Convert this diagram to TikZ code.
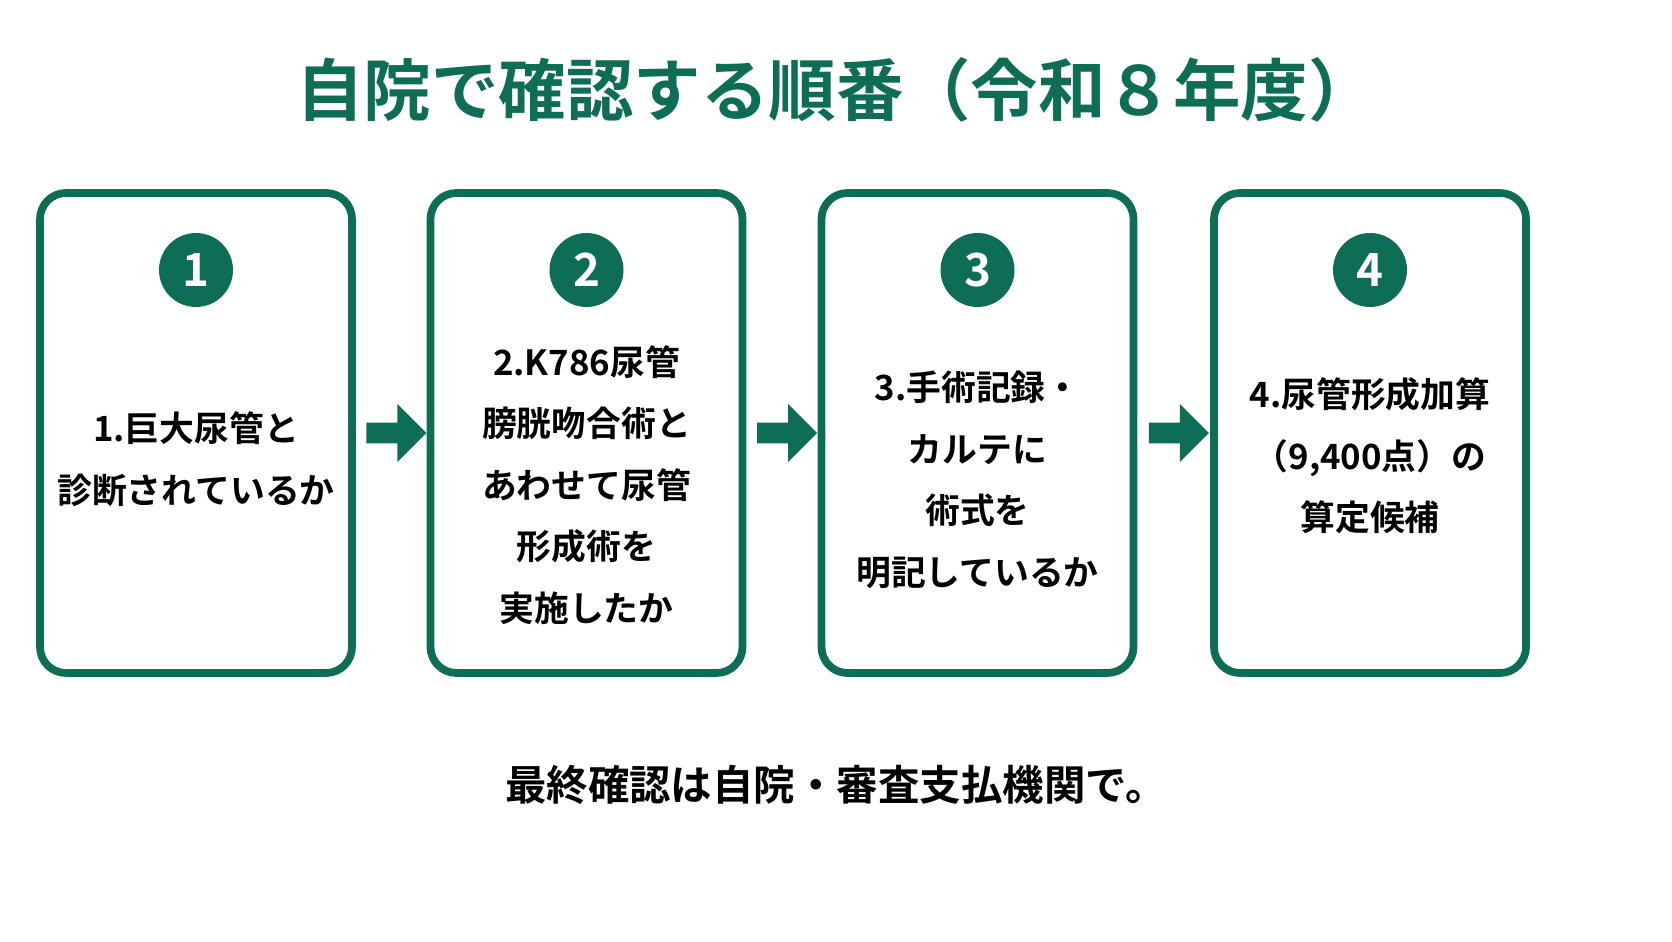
\documentclass[tikz,border=0pt]{standalone}
\usepackage{fontspec}
\setmainfont{Noto Sans CJK JP}[BoldFont={Noto Sans CJK JP Bold}]
\usetikzlibrary{positioning, shapes.arrows}
\definecolor{hgreen}{HTML}{0E6E55}
\tikzset{
    stepbox/.style={draw=hgreen, line width=2.2pt, rounded corners=0.26cm, minimum width=3.12cm, minimum height=4.8cm, fill=white},
    num/.style={circle, fill=hgreen, text=white, minimum size=0.74cm, inner sep=0pt, font=\bfseries\fontsize{13}{13}\selectfont},
    body/.style={align=center, font=\bfseries\fontsize{9.9}{17.5}\selectfont},
    go/.style={single arrow, fill=hgreen, minimum height=0.6cm, minimum width=0.58cm, single arrow head extend=0.14cm, inner xsep=0pt, inner ysep=0.07cm},
}
\begin{document}
\begin{tikzpicture}
    \fill[white] (0,0) rectangle (16.72,9.41);
    \useasboundingbox (0,0) rectangle (16.72,9.41);
    \node[text=hgreen, font=\bfseries\fontsize{19.2}{19.2}\selectfont] (title) at (8.36,8.51) {自院で確認する順番（令和８年度）};
    % the four steps
    \foreach \i/\x in {1/1.96, 2/5.865, 3/9.775, 4/13.70} {
        \node[stepbox] (box\i) at (\x,5.08) {};
        \node[num] (n\i) at (\x,6.71) {\i};
    }
    \node[body] (t1) at (1.96,4.82) {1.巨大尿管と\\診断されているか};
    \node[body] (t2) at (5.865,4.56) {2.K786尿管\\膀胱吻合術と\\あわせて尿管\\形成術を\\実施したか};
    \node[body] (t3) at (9.775,4.61) {3.手術記録・\\カルテに\\術式を\\明記しているか};
    \node[body] (t4) at (13.70,4.85) {4.尿管形成加算\\（9,400点）の\\算定候補};
    % arrows between steps
    \foreach \a/\b in {1/2, 2/3, 3/4} {
        \path (box\a.east) -- (box\b.west) node[midway, go] (ar\a) {};
    }
    \node[font=\bfseries\fontsize{11.8}{11.8}\selectfont] (note) at (8.36,1.56) {最終確認は自院・審査支払機関で。};
\end{tikzpicture}
\end{document}
